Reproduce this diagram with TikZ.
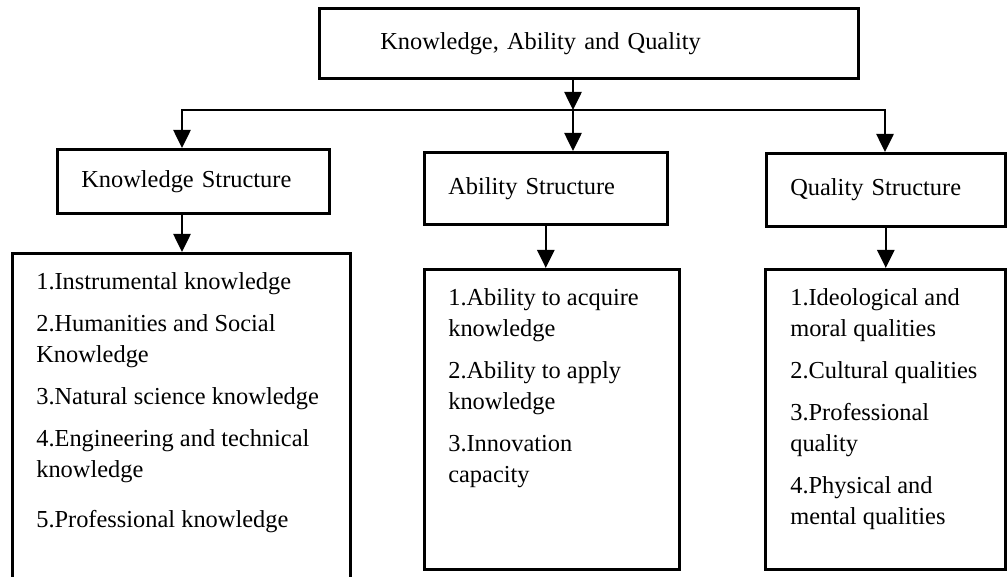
\documentclass[tikz,border=0pt]{standalone}
\usepackage{fontspec}
\setmainfont{Liberation Serif}
\usetikzlibrary{arrows.meta}

\begin{document}
\begin{tikzpicture}[x=1pt,y=-1pt,line width=2.6pt,>={Triangle[length=18pt,width=17pt]},
  txt/.style={font=\fontsize{24.4}{31}\selectfont},
  headbox/.style={draw,txt,anchor=north west,align=left,inner xsep=24pt,inner ysep=0pt},
  listbox/.style={draw,anchor=north west,inner sep=0pt},
  listtext/.style={txt,anchor=north west,align=left,inner sep=0pt}]
  \path[use as bounding box,clip] (0,0) rectangle (1007,577);
  % top
  \node[headbox,inner xsep=61pt,text width=417pt,minimum height=70pt] (kaq) at (318,7) {Knowledge, Ability and Quality};
  % structures
  \node[headbox,text width=224pt,minimum height=64pt] (kstr) at (56,148) {Knowledge Structure};
  \node[headbox,text width=195pt,minimum height=72pt] (astr) at (423,151) {Ability Structure};
  \node[headbox,text width=191pt,minimum height=73pt] (qstr) at (765,152) {Quality Structure};
  % lists
  \node[listbox,minimum width=338pt,minimum height=360pt] (klist) at (11,252) {};
  \node[listbox,minimum width=255pt,minimum height=300pt] (alist) at (423,268) {};
  \node[listbox,minimum width=240pt,minimum height=300pt] (qlist) at (764,268) {};
  \node[listtext] (ktext) at ([shift={(24,19)}]klist.north west)
    {1.Instrumental knowledge\\[11pt]2.Humanities and Social\\Knowledge\\[11pt]3.Natural science knowledge\\[11pt]4.Engineering and technical\\knowledge\\[19pt]5.Professional knowledge};
  \node[listtext] (atext) at ([shift={(24,19)}]alist.north west)
    {1.Ability to acquire\\knowledge\\[11pt]2.Ability to apply\\knowledge\\[11pt]3.Innovation\\capacity};
  \node[listtext] (qtext) at ([shift={(25,19)}]qlist.north west)
    {1.Ideological and\\moral qualities\\[11pt]2.Cultural qualities\\[11pt]3.Professional\\quality\\[11pt]4.Physical and\\mental qualities};
  % arrows
  \coordinate (hub) at (573,110);
  \coordinate (lturn) at (182,110);
  \coordinate (rturn) at (885,110);
  \draw[->] (kaq.south -| hub) -- (hub);
  \draw[->] (hub) -- (lturn) -- (kstr.north -| lturn);
  \draw[->] (hub) -- (astr.north -| hub);
  \draw[->] (hub) -- (rturn) -- (qstr.north -| rturn);
  \draw[->] (kstr.south -| lturn) -- (klist.north -| lturn);
  \draw[->] (astr.south) -- (alist.north -| astr.south);
  \draw[->] (qstr.south) -- (qlist.north -| qstr.south);
\end{tikzpicture}
\end{document}
